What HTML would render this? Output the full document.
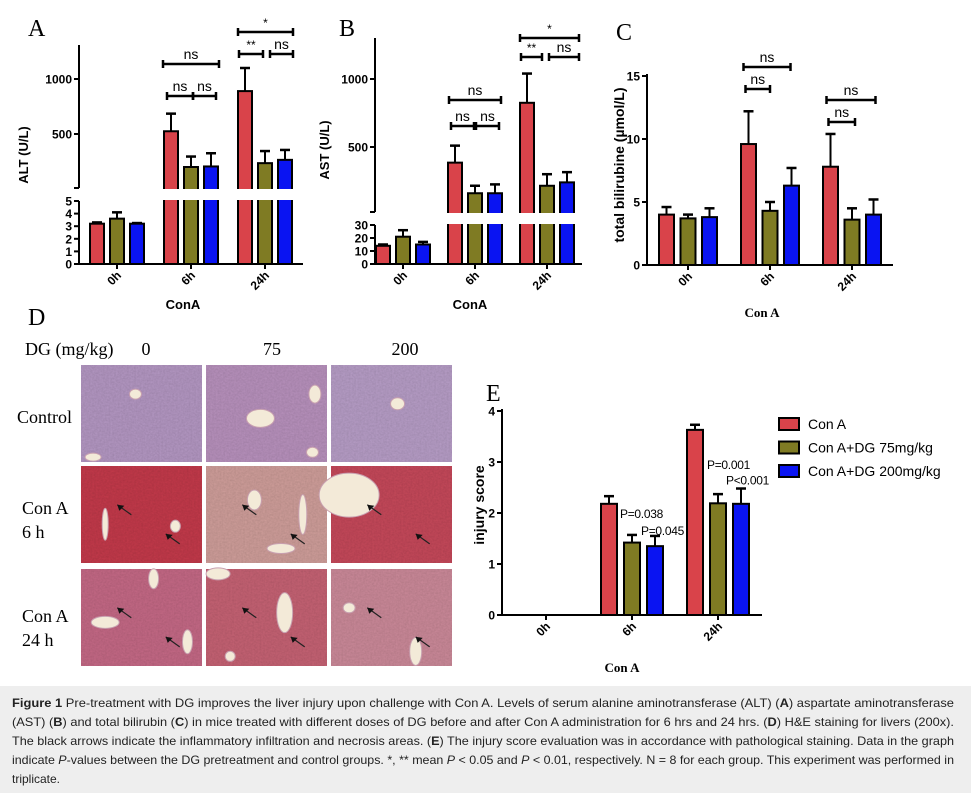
<!DOCTYPE html>
<html><head><meta charset="utf-8"><style>
body{margin:0;background:#fff;}
svg{display:block;font-family:"Liberation Sans",Arial,sans-serif;}
.tk{font-size:12px;font-weight:bold;}
.ser{font-family:"Liberation Serif",serif;}
</style></head><body>
<svg id="fig" width="971" height="793" viewBox="0 0 971 793" xmlns="http://www.w3.org/2000/svg">
<defs>
<filter id="tex" x="0" y="0" width="100%" height="100%">
<feTurbulence type="fractalNoise" baseFrequency="0.55" numOctaves="2" seed="3" result="n"/>
<feColorMatrix type="saturate" values="0" in="n" result="g"/>
<feComponentTransfer in="g" result="g2"><feFuncA type="linear" slope="0" intercept="0.35"/></feComponentTransfer>
<feBlend in="SourceGraphic" in2="g2" mode="multiply"/>
</filter>
</defs>
<rect x="0" y="686" width="971" height="107" fill="#eeeeee"/>
<g id="root"></g>
</svg>
<script>
// ---------- data ----------
const groups = ["0h","6h","24h"];
const colors = ["#d9434a","#7f7b23","#0a14f2"];
const seriesNames = ["Con A","Con A+DG 75mg/kg","Con A+DG 200mg/kg"];
// panel A ALT
const altVals = [[3.2,525,890],[3.6,200,235],[3.2,205,265]];
const altErr  = [[0.1,160,210],[0.5,95,110],[0.05,120,90]];
const altTicksLow = [0,1,2,3,4,5];
const altTicksHigh = [500,1000];
// panel B AST
const astVals = [[14,385,825],[21,160,215],[15,160,240]];
const astErr  = [[1,125,215],[5,55,85],[2,65,75]];
const astTicksLow = [0,10,20,30];
const astTicksHigh = [500,1000];
// panel C bilirubin
const bilVals = [[4.0,9.6,7.8],[3.7,4.3,3.6],[3.8,6.3,4.0]];
const bilErr  = [[0.6,2.6,2.6],[0.3,0.7,0.9],[0.7,1.4,1.2]];
const bilTicks = [0,5,10,15];
// panel E injury
const injVals = [[0,2.18,3.63],[0,1.42,2.19],[0,1.35,2.18]];
const injErr  = [[0,0.15,0.1],[0,0.15,0.18],[0,0.2,0.3]];
const injTicks = [0,1,2,3,4];
const injP = [[1,1,"P=0.038"],[1,2,"P=0.045"],[2,1,"P=0.001"],[2,2,"P<0.001"]];
// label layout offsets (px, relative to bar center / error-bar top)
const injPOffset = [[-12,-17],[-14,-1],[-11,-25],[-15,-4]];

const NS="http://www.w3.org/2000/svg";
const root=document.getElementById('root');
function mk(tag,attrs,parent,text){const e=document.createElementNS(NS,tag);for(const k in attrs)e.setAttribute(k,attrs[k]);if(text!==undefined)e.textContent=text;(parent||root).appendChild(e);return e;}
function grp(name,parent){const g=mk('g',{},parent);return g;}
function line(g,x1,y1,x2,y2,w){return mk('line',{x1,y1,x2,y2,stroke:'#000','stroke-width':w||2},g);}

function barChart(o){
  const g=grp(o.name);
  const gx=i=>o.x0+o.first+i*o.gsp;
  const bx=(i,s)=>gx(i)+(s-1)*o.bsp;
  for(let s=0;s<3;s++)for(let i=0;i<groups.length;i++){
    const v=o.vals[s][i]; if(v<=0)continue;
    const x=bx(i,s)-o.bw/2, yt=o.y(v);
    const r=mk('rect',{x,y:yt,width:o.bw,height:o.axisY-yt,fill:colors[s],stroke:'#000','stroke-width':2},g);
    
    
    const e=o.err[s][i];
    if(e>0){const ye=o.y(v+e);line(g,bx(i,s),yt,bx(i,s),ye,2);line(g,bx(i,s)-5,ye,bx(i,s)+5,ye,2.5);}
  }
  if(o.brk){mk('rect',{x:o.x0-3,y:o.brk[0]+1,width:o.x1-o.x0+10,height:o.brk[1]-o.brk[0]-2,fill:'#fff'},g);
    line(g,o.x0,o.top,o.x0,o.brk[0]);line(g,o.x0,o.brk[1],o.x0,o.axisY);
    line(g,o.x0-5,o.brk[0],o.x0,o.brk[0]);line(g,o.x0-5,o.brk[1],o.x0,o.brk[1]);
  } else line(g,o.x0,o.top,o.x0,o.axisY);
  line(g,o.x0-1,o.axisY,o.x1,o.axisY);
  o.ticks.forEach(t=>{const y=o.y(t);line(g,o.x0-5,y,o.x0,y);
    const tx=mk('text',{x:o.x0-7,y:y+4.5,'text-anchor':'end',class:'tk','font-size':o.tfs||12},g,String(t));
    });
  groups.forEach((lb,i)=>{const x=gx(i);line(g,x,o.axisY,x,o.axisY+5);
    const tx=mk('text',{x:x+5,y:o.axisY+12,'text-anchor':'end',class:'tk','font-size':12,transform:`rotate(-45 ${x+5} ${o.axisY+12})`},g,lb);
    });
  const yt=mk('text',{x:o.ytx,y:o.yty,'text-anchor':'middle','font-weight':'bold','font-size':o.ytfs||13,transform:`rotate(-90 ${o.ytx} ${o.yty})`},g,o.ytitle);
  
  const xt=mk('text',{x:o.xtx,y:o.xty,'text-anchor':'middle','font-weight':'bold','font-size':13,class:o.xser?'ser':''},g,o.xtitle);
  
  const pl=mk('text',{x:o.lx,y:o.ly,class:'ser','font-size':24},g,o.letter);
  
  (o.br||[]).forEach(b=>{const x1=bx(b[0],b[1])+(b[5]||0),x2=bx(b[0],b[2])+(b[6]||0),y=b[3];
    const bg=grp('significance-bracket',g);
    line(bg,x1,y,x2,y,2.5);line(bg,x1,y-4,x1,y+4,2.5);line(bg,x2,y-4,x2,y+4,2.5);
    mk('text',{x:(x1+x2)/2,y:y-5,'text-anchor':'middle','font-size':b[4].includes('*')?12:14},bg,b[4]);});
  return {g,bx};
}

barChart({name:'panel-a-alt-chart',key:'alt',x0:79,x1:303,first:38,gsp:74,bsp:20,bw:14,axisY:264,top:45,
  y:v=>v<=5?264-v*12.6:189-v*0.11,brk:[188,201],vals:altVals,err:altErr,ticks:altTicksLow.concat(altTicksHigh),tfs:12,
  ytitle:'ALT (U/L)',ytx:28,yty:155,xtitle:'ConA',xtx:183,xty:309,letter:'A',lx:28,ly:36,
  br:[[1,0,2,64,'ns',-8,8],[1,0,1,96,'ns',-4,2],[1,1,2,96,'ns',2,5],[2,0,2,32,'*',-7,8],[2,0,1,54,'**',-6,-2],[2,1,2,54,'ns',5,8]]});
barChart({name:'panel-b-ast-chart',key:'ast',x0:375,x1:582,first:28,gsp:72,bsp:20,bw:14,axisY:264,top:38,
  y:v=>v<=30?264-v*1.3:215-v*0.136,brk:[212,225],vals:astVals,err:astErr,ticks:astTicksLow.concat(astTicksHigh),
  ytitle:'AST (U/L)',ytx:329,yty:150,xtitle:'ConA',xtx:470,xty:309,letter:'B',lx:339,ly:36,
  br:[[1,0,2,100,'ns',-6,6],[1,0,1,126,'ns',-4,-1],[1,1,2,126,'ns',1,4],[2,0,2,38,'*',-7,12],[2,0,1,57,'**',-6,-5],[2,1,2,57,'ns',2,12]]});
barChart({name:'panel-c-bilirubin-chart',key:'bil',x0:647,x1:893,first:41,gsp:82,bsp:21.5,bw:15,axisY:265,top:74,
  y:v=>265-v*12.6,vals:bilVals,err:bilErr,ticks:bilTicks,
  ytitle:'total bilirubine (µmol/L)',ytx:624,yty:165,ytfs:14,xtitle:'Con A',xser:true,xtx:762,xty:317,letter:'C',lx:616,ly:40,
  br:[[1,0,2,67,'ns',-5,-1],[1,0,1,89,'ns',-3,0],[2,0,2,100,'ns',-4,2],[2,0,1,122,'ns',-2,3]]});
const E=barChart({name:'panel-e-injury-chart',key:'inj',x0:502,x1:762,first:44,gsp:86,bsp:23,bw:16,axisY:615,top:409,
  y:v=>615-v*51,vals:injVals,err:injErr,ticks:injTicks,tfs:14,
  ytitle:'injury score',ytx:484,yty:505,ytfs:14,xtitle:'Con A',xser:true,xtx:622,xty:672,letter:'E',lx:486,ly:401});
injP.forEach((p,k)=>{const s=p[1],i=p[0];const off=injPOffset[k];
  const x=E.bx(i,s)+off[0],y=615-(injVals[s][i]+injErr[s][i])*51+off[1];
  const t=mk('text',{x:x,y:y,'font-size':12,'letter-spacing':'-0.3'},E.g,p[2]);
  });
const lg=grp('legend');
seriesNames.forEach((n,s)=>{const y=418+s*23.5;
  const eg=grp('legend-entry',lg);
  mk('rect',{x:779,y:y,width:20,height:12,fill:colors[s],stroke:'#000','stroke-width':2},eg);
  mk('text',{x:808,y:y+11,'font-size':14},eg,n);});

// ---------- panel D histology ----------
const D=grp('panel-d-histology');
mk('text',{x:28,y:325,class:'ser','font-size':24},D,'D');
mk('text',{x:25,y:355,class:'ser','font-size':18},D,'DG (mg/kg)');
[["0",146],["75",272],["200",405]].forEach(c=>mk('text',{x:c[1],y:355,class:'ser','font-size':18,'text-anchor':'middle'},D,c[0]));
mk('text',{x:17,y:423,class:'ser','font-size':18},D,'Control');
mk('text',{x:22,y:514,class:'ser','font-size':18},D,'Con A');
mk('text',{x:22,y:538,class:'ser','font-size':18},D,'6 h');
mk('text',{x:22,y:622,class:'ser','font-size':18},D,'Con A');
mk('text',{x:22,y:646,class:'ser','font-size':18},D,'24 h');
const cols=[81,206,331], rows=[365,466,569];
const tint=[["#b79ac6","#bb94c0","#baa0ca"],["#c73b4c","#d3a19d","#c94a5c"],["#c86b88","#c96476","#cf8c9c"]];
const vessels=[[[0.45,0.3,6,5],[0.1,0.95,8,4]],[[0.45,0.55,14,9],[0.9,0.3,6,9],[0.88,0.9,6,5]],[[0.55,0.4,7,6]],
 [[0.2,0.6,3,16],[0.78,0.62,5,6]],[[0.4,0.35,7,10],[0.8,0.5,4,20],[0.62,0.85,14,5]],[[0.15,0.3,30,22]],
 [[0.2,0.55,14,6],[0.6,0.1,5,10],[0.88,0.75,5,12]],[[0.65,0.45,8,20],[0.1,0.05,12,6],[0.2,0.9,5,5]],[[0.15,0.4,6,5],[0.7,0.85,6,14]]];
rows.forEach((ry,r)=>cols.forEach((cx,c)=>{
  const tg=grp('histology-image-r'+r+'-c'+c,D);
  mk('rect',{x:cx,y:ry,width:121,height:97,fill:tint[r][c],filter:'url(#tex)'},tg);
  vessels[r*3+c].forEach(v=>mk('ellipse',{cx:cx+v[0]*121,cy:ry+v[1]*97,rx:v[2],ry:v[3],fill:'#f3ead8',stroke:'#c8a0b0','stroke-width':1},tg));
  if(r>0){[[0.3,0.4],[0.7,0.7]].forEach(a=>{const x=cx+a[0]*121,y=ry+a[1]*97;
    mk('line',{x1:x+14,y1:y+10,x2:x,y2:y,stroke:'#222','stroke-width':1.2},tg);
    mk('polygon',{points:`${x},${y} ${x+7},${y+1} ${x+2},${y+6}`,fill:'#111'},tg);});}
}));

// ---------- caption ----------
const cap=grp('figure-caption');
const lines=[
 [["b","Figure 1"],["n"," Pre-treatment with DG improves the liver injury upon challenge with Con A. Levels of serum alanine aminotransferase (ALT) ("],["b","A"],["n",") aspartate aminotransferase"]],
 [["n","(AST) ("],["b","B"],["n",") and total bilirubin ("],["b","C"],["n",") in mice treated with different doses of DG before and after Con A administration for 6 hrs and 24 hrs. ("],["b","D"],["n",") H&E staining for livers (200x)."]],
 [["n","The black arrows indicate the inflammatory infiltration and necrosis areas. ("],["b","E"],["n",") The injury score evaluation was in accordance with pathological staining. Data in the graph"]],
 [["n","indicate "],["i","P"],["n","-values between the DG pretreatment and control groups. *, ** mean "],["i","P"],["n"," < 0.05 and "],["i","P"],["n"," < 0.01, respectively. N = 8 for each group. This experiment was performed in"]],
 [["n","triplicate."]]];
lines.forEach((L,k)=>{const attrs={x:12,y:707+k*19,'font-size':12,fill:'#222'};
  if(k<4){attrs.textLength=942;attrs.lengthAdjust='spacingAndGlyphs';}
  const t=mk('text',attrs,cap);
  L.forEach(p=>{const sp=mk('tspan',{},t,p[1]);if(p[0]=='b')sp.setAttribute('font-weight','bold');if(p[0]=='i')sp.setAttribute('font-style','italic');});});
</script>
</body></html>
